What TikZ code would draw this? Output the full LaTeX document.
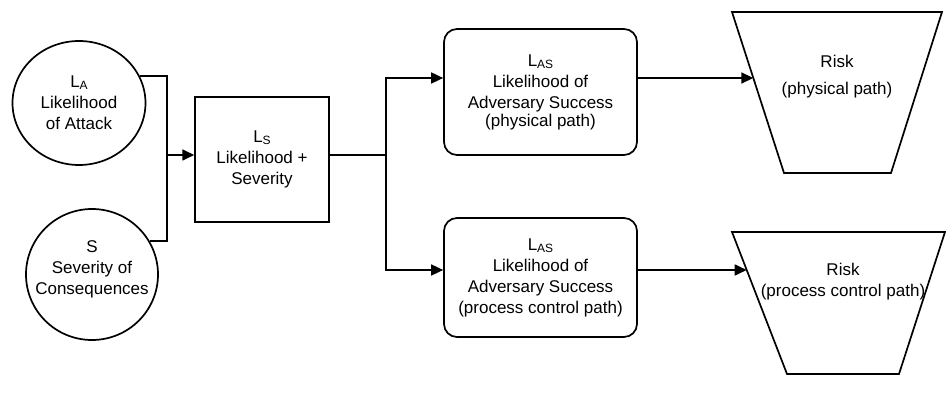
\documentclass[tikz,border=0pt]{standalone}
\usepackage{fontspec}
\setmainfont{Liberation Sans}
\usetikzlibrary{arrows.meta,calc,shapes.geometric}
\newcommand{\smallsub}[1]{\raisebox{-2pt}{\fontsize{12}{12}\selectfont #1}}
\begin{document}
\begin{tikzpicture}[x=1pt,y=-1pt,line width=1.7pt,
  txt/.style={font=\fontsize{17}{21}\selectfont,align=center,inner sep=0pt},
  roundnode/.style={draw,ellipse,inner sep=0pt},
  boxnode/.style={draw,txt,line width=1.5pt},
  rbox/.style={draw,txt,rounded corners=13pt,minimum width=193,minimum height=124},
  arr/.style={-{Triangle[length=12pt,width=11pt]}},
  trap/.style={line width=1.7pt,line join=miter}]
\useasboundingbox (0,0) rectangle (946,403);

% circles
\node[roundnode,minimum width=133,minimum height=124] (la) at (79,103) {};
\node[txt] (lat) at (la) {L\smallsub{A}\\Likelihood\\of Attack};
\node[roundnode,minimum width=132,minimum height=131] (lb) at (92,274.5) {};
\node[txt] (lbt) at ($(lb)+(0,-5)$) {S\\Severity of\\Consequences};

% L_S box
\node[boxnode,minimum width=134,minimum height=125] (ls) at (262,159.5)
  {L\smallsub{S}\\Likelihood +\\Severity};

% rounded boxes
\node[rbox,minimum height=126] (las1) at (540.5,92)
  {L\smallsub{AS}\\Likelihood of\\Adversary Success\\[-3pt](physical path)};
\node[rbox,minimum height=119] (las2) at (540.5,277.5)
  {L\smallsub{AS}\\Likelihood of\\Adversary Success\\(process control path)};

% trapezoids
\coordinate (r1tl) at (732,12);  \coordinate (r1tr) at (942,12);
\coordinate (r1br) at (891,173); \coordinate (r1bl) at (784,173);
\draw[trap] (r1tl) -- (r1tr) -- (r1br) -- (r1bl) -- cycle;
\node[txt] (r1) at (837,77) {Risk\\[6pt](physical path)};

\coordinate (r2tl) at (732,232); \coordinate (r2tr) at (945,232);
\coordinate (r2br) at (899,374); \coordinate (r2bl) at (787,374);
\draw[trap] (r2tl) -- (r2tr) -- (r2br) -- (r2bl) -- cycle;
\node[txt] (r2) at (843,282) {Risk\\(process control path)};

% junctions
\coordinate (j1) at (167,155);
\coordinate (jb) at (167,241);
\coordinate (j2) at (386,155);
\coordinate (p1) at ($(las1.west)+(0,-14)$);
\coordinate (p2) at ($(las2.west)+(0,-7.5)$);
\coordinate (r1in) at ($(r1tl)!0.41!(r1bl)$);
\coordinate (r2in) at ($(r2tl)!0.2676!(r2bl)$);

% connectors
\draw (la.24) -| (jb) -- (jb -| lb.30);
\draw[arr] (j1) -- (ls.west |- j1);
\draw (ls.east |- j2) -- (j2);
\draw[arr] (j2) |- (p1);
\draw[arr] (j2) |- (p2);
\draw[arr] (p1 -| las1.east) -- (r1in);
\draw[arr] (p2 -| las2.east) -- (r2in);
\end{tikzpicture}
\end{document}
